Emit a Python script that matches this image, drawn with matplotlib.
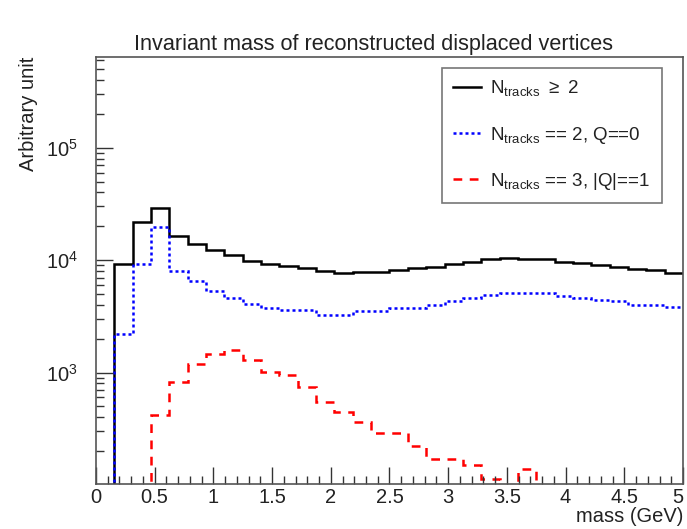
import numpy as np
import matplotlib
matplotlib.use("Agg")
import matplotlib.pyplot as plt
from matplotlib.ticker import LogLocator, MultipleLocator, NullFormatter, FixedLocator

plt.rcParams['font.family'] = ['Liberation Sans', 'DejaVu Sans']
plt.rcParams['mathtext.fontset'] = 'custom'
plt.rcParams['mathtext.rm'] = 'Liberation Sans'

# 32 bins from 0 to 5 GeV
edges = np.linspace(0, 5, 33)

# N_tracks >= 2
n_all = [0, 9200, 22000, 29300, 16400, 14000, 12200, 11100, 9900, 9300,
         8900, 8530, 7980, 7710, 7800, 7800, 8150, 8430, 8710, 9270,
         9700, 10150, 10500, 10150, 10150, 9650, 9340, 9020, 8660, 8260,
         8090, 7710]
# N_tracks == 2, Q == 0
n_q0 = [0, 2200, 9150, 19700, 7980, 6500, 5360, 4600, 4070, 3750,
        3630, 3630, 3280, 3280, 3510, 3510, 3750, 3750, 3960, 4370,
        4600, 4940, 5050, 5050, 5050, 4770, 4600, 4450, 4300, 4020,
        4020, 3800]
# N_tracks == 3, |Q| == 1
n_q1 = [0, 0, 0, 419, 832, 1186, 1456, 1595, 1298, 1021,
        953, 750, 551, 449, 360, 287, 287, 223, 170, 170,
        150, 114, 0, 140, 0, 0, 0, 0, 0, 0,
        0, 0]

xticks = [0, 0.5, 1, 1.5, 2, 2.5, 3, 3.5, 4, 4.5, 5]
labels = [r'N$_{\mathregular{tracks}}$ $\geq$ 2',
          r'N$_{\mathregular{tracks}}$ == 2, Q==0',
          r'N$_{\mathregular{tracks}}$ == 3, |Q|==1']

fig = plt.figure(figsize=(6.87, 5.29), dpi=100)
ax = fig.add_axes([0.1397, 0.0851, 0.8545, 0.8071])
ax.set_yscale('log', nonpositive='clip')

ax.stairs(n_all, edges, color='black', lw=1.8, baseline=None, label=labels[0])
ax.stairs(n_q0, edges, color='blue', lw=1.8, ls=(0, (1.2, 1.2)), baseline=None, label=labels[1])
ax.stairs(n_q1, edges, color='red', lw=1.8, ls=(0, (3.5, 3)), baseline=None, label=labels[2])

ax.set_xlim(0, 5)
ax.set_ylim(102, 6.4e5)

# ROOT-style ticks, inside, left and bottom only
ax.set_xticks(xticks, [f'{v:g}' for v in xticks])
ax.xaxis.set_minor_locator(MultipleLocator(0.1))
ax.yaxis.set_major_locator(FixedLocator([1e3, 1e4, 1e5]))
ax.yaxis.set_minor_locator(LogLocator(base=10, subs=np.arange(2, 10)))
ax.yaxis.set_minor_formatter(NullFormatter())
ax.tick_params(direction='in', which='both', top=False, right=False,
               labelsize=14.5, color='#333333', labelcolor='#222222')
ax.tick_params(axis='y', which='major', pad=13)
ax.tick_params(axis='x', which='major', pad=3)
ax.tick_params(which='major', length=12, width=1)
ax.tick_params(which='minor', length=6, width=1)
# last label would stick out of the figure
ax.get_xticklabels()[-1].set_horizontalalignment('right')
for s in ax.spines.values():
    s.set_color('#555555')
    s.set_linewidth(1.2)

ax.set_xlabel('mass (GeV)', fontsize=14.5, loc='right', labelpad=0, color='#222222')
ax.set_ylabel('Arbitrary unit', fontsize=14.5, loc='top', labelpad=6, color='#222222')
fig.suptitle('Invariant mass of reconstructed displaced vertices', fontsize=15.6,
             y=0.935, x=0.543, color='#222222')

leg = ax.legend(loc='upper right', bbox_to_anchor=(0.964, 0.975), fontsize=13.5,
                frameon=True, fancybox=False, edgecolor='#555555',
                handlelength=1.5, handletextpad=0.5, labelspacing=1.35,
                borderpad=0.6, borderaxespad=0)
leg.get_frame().set_linewidth(1.2)
for t in leg.get_texts():
    t.set_color('#222222')

fig.savefig('out.png', dpi=100)
